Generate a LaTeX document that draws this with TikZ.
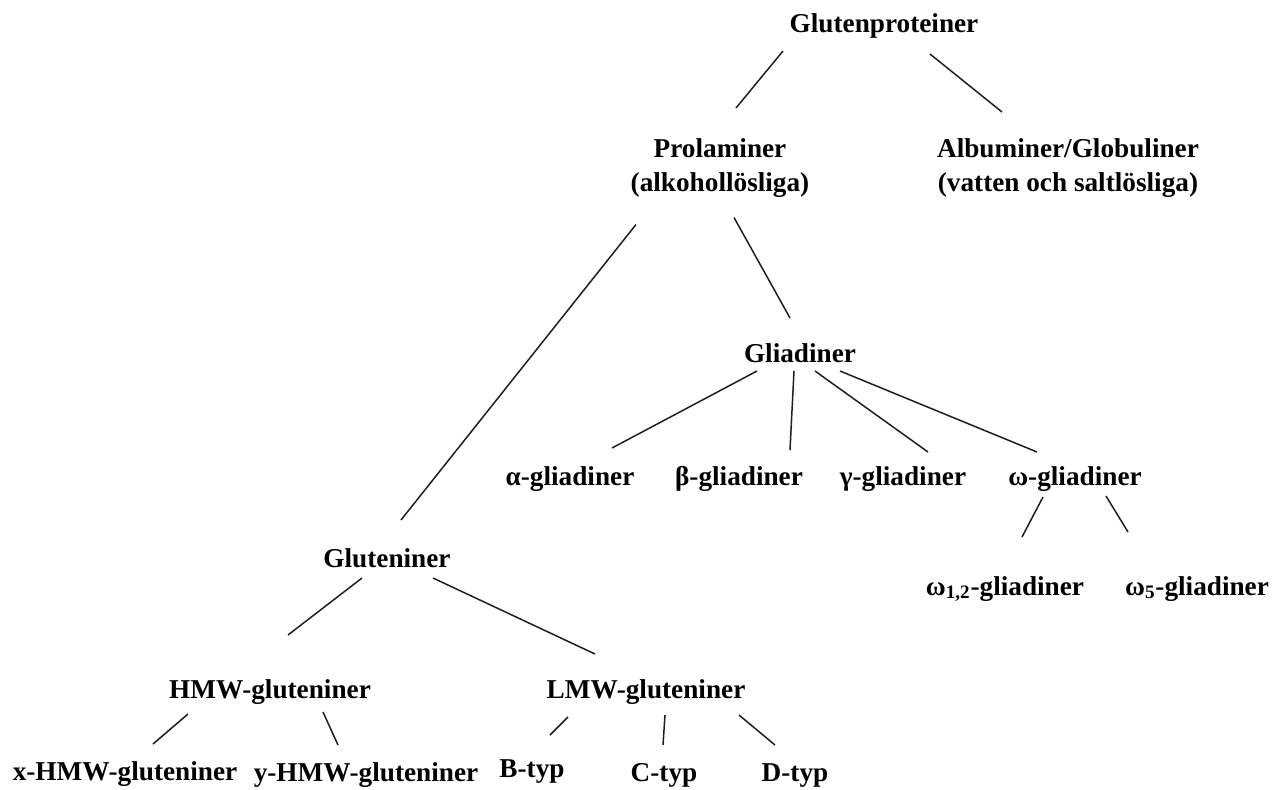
\documentclass[tikz,border=0pt]{standalone}
\usepackage{fontspec}
\setmainfont{Liberation Serif}
\usepackage{tikz}
\usetikzlibrary{positioning, calc}
\usepackage{xcolor}
\definecolor{treeline}{RGB}{30,30,30}
\tikzset{
  lbl/.style={font=\fontsize{15.5}{19.3}\selectfont\bfseries, inner sep=0pt, align=center, anchor=base},
  lbl2/.style={lbl, anchor=north},
  conn/.style={draw=treeline, line width=0.85pt}
}

\begin{document}
\begin{tikzpicture}[x=0.02cm, y=-0.02cm]
\useasboundingbox (0,0) rectangle (1285,789);
% Top level
\node[lbl] (gp) at (884,32) {Glutenproteiner};
\node[lbl2] (prol) at (720,138) {Prolaminer\\(alkohollösliga)};
\node[lbl2] (album) at (1068,138) {Albuminer/Globuliner\\(vatten och saltlösliga)};

% Gliadiner branch
\node[lbl] (gliad) at (800,362) {Gliadiner};
\node[lbl] (alpha) at (570,485) {α-gliadiner};
\node[lbl] (beta) at (739,485) {β-gliadiner};
\node[lbl] (gamma) at (903,485) {γ-gliadiner};
\node[lbl] (omega) at (1075,485) {ω-gliadiner};
\node[lbl] (om12) at (1005,595) {ω\textsubscript{1,2}-gliadiner};
\node[lbl] (om5) at (1197,595) {ω\textsubscript{5}-gliadiner};

% Gluteniner branch
\node[lbl] (glut) at (387,567) {Gluteniner};
\node[lbl] (hmw) at (270,698) {HMW-gluteniner};
\node[lbl] (lmw) at (646,698) {LMW-gluteniner};
\node[lbl] (xhmw) at (125,780) {x-HMW-gluteniner};
\node[lbl] (yhmw) at (366,781) {y-HMW-gluteniner};
\node[lbl] (btyp) at (532,777) {B-typ};
\node[lbl] (ctyp) at (664,781) {C-typ};
\node[lbl] (dtyp) at (795,781) {D-typ};

% Connectors
\draw[conn] ([shift={(-101,19)}]gp.base) -- ([shift={(16,-30)}]prol.north);
\draw[conn] ([shift={(46,22)}]gp.base) -- ([shift={(-66,-26)}]album.north);
\draw[conn] ([shift={(-84,27)}]prol.south) -- ([shift={(14,-47)}]glut.base);
\draw[conn] ([shift={(14,20)}]prol.south) -- ([shift={(-10,-44)}]gliad.base);
\draw[conn] ([shift={(-43,9)}]gliad.base) -- ([shift={(42,-37)}]alpha.base);
\draw[conn] ([shift={(-6,9)}]gliad.base) -- ([shift={(51,-35)}]beta.base);
\draw[conn] ([shift={(15,9)}]gliad.base) -- ([shift={(25,-33)}]gamma.base);
\draw[conn] ([shift={(40,9)}]gliad.base) -- ([shift={(-38,-33)}]omega.base);
\draw[conn] ([shift={(-32,12)}]omega.base) -- ([shift={(17,-58)}]om12.base);
\draw[conn] ([shift={(31,11)}]omega.base) -- ([shift={(-69,-63)}]om5.base);
\draw[conn] ([shift={(-25,11)}]glut.base) -- ([shift={(18,-63)}]hmw.base);
\draw[conn] ([shift={(46,11)}]glut.base) -- ([shift={(-51,-44)}]lmw.base);
\draw[conn] ([shift={(-82,16)}]hmw.base) -- ([shift={(28,-36)}]xhmw.base);
\draw[conn] ([shift={(53,14)}]hmw.base) -- ([shift={(-28,-36)}]yhmw.base);
\draw[conn] ([shift={(-78,19)}]lmw.base) -- ([shift={(18,-42)}]btyp.base);
\draw[conn] ([shift={(19,17)}]lmw.base) -- ([shift={(-1,-36)}]ctyp.base);
\draw[conn] ([shift={(93,17)}]lmw.base) -- ([shift={(-20,-36)}]dtyp.base);
\end{tikzpicture}
\end{document}
